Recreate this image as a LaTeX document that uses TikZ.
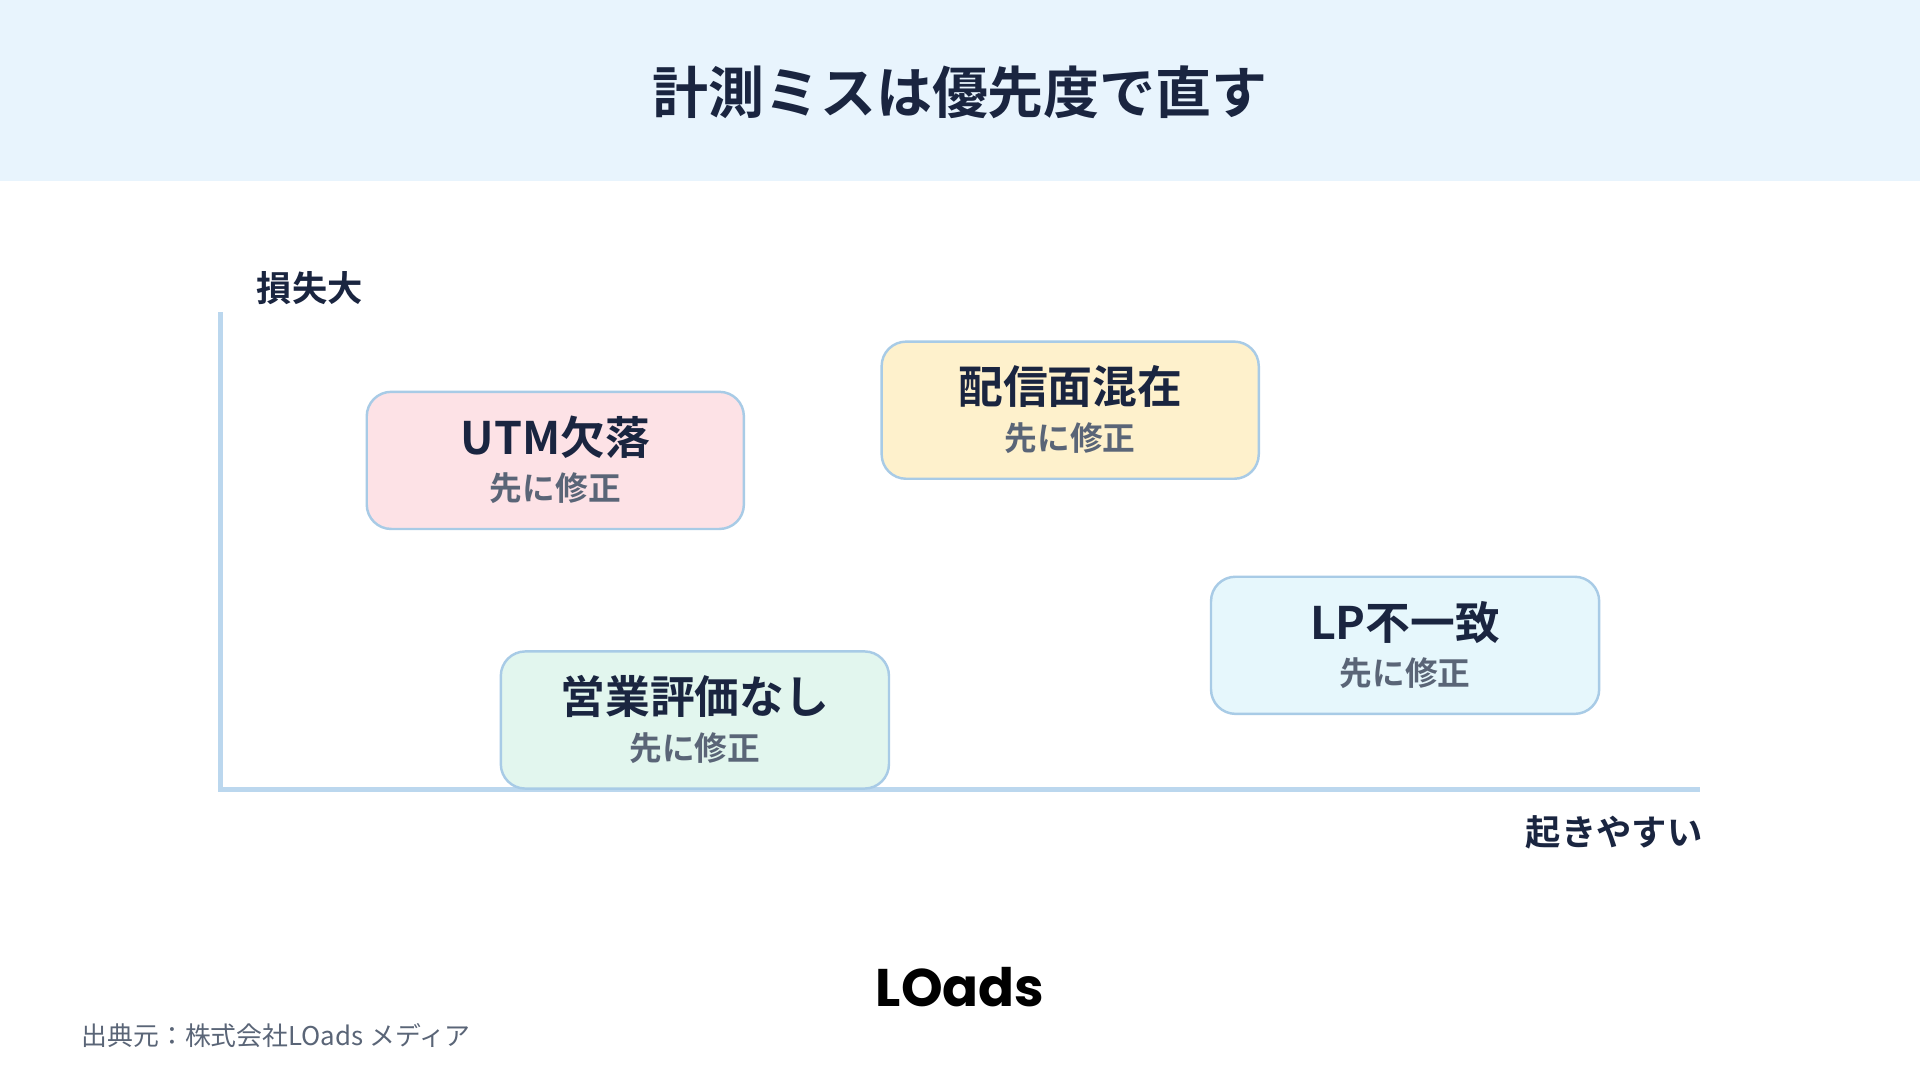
\documentclass[tikz,border=0pt]{standalone}
\usepackage{fontspec}
\setmainfont{Noto Sans CJK JP}
\newfontfamily\jpb{Noto Sans CJK JP Bold}
\newfontfamily\logo{Poppins Bold}
\definecolor{navy}{HTML}{1A2540}
\definecolor{subg}{HTML}{5A6577}
\definecolor{band}{HTML}{E8F4FD}
\definecolor{axisc}{HTML}{BBD7EE}
\definecolor{bord}{HTML}{A8CBE6}
\definecolor{cpink}{HTML}{FDE2E6}
\definecolor{cyel}{HTML}{FEF1CC}
\definecolor{ccyan}{HTML}{E6F7FC}
\definecolor{cgreen}{HTML}{E2F6EE}
\tikzset{
 card/.style={draw=bord,line width=2pt*0.2845,rounded corners=20*0.01cm,minimum width=308*0.01cm,minimum height=112*0.01cm,inner sep=0pt},
 mainlbl/.style={font=\jpb\fontsize{10.4pt}{12pt}\selectfont,text=navy},
 sublbl/.style={font=\jpb\fontsize{7.6pt}{9pt}\selectfont,text=subg},
}
\begin{document}
\begin{tikzpicture}[x=0.01cm,y=-0.01cm]
\useasboundingbox (0,0) rectangle (1568,882);
\fill[white] (0,0) rectangle (1568,882);
\fill[band] (0,0) rectangle (1568,148);
\node[font=\jpb\fontsize{13pt}{15pt}\selectfont,text=navy] (title) at (784,75) {計測ミスは優先度で直す};
\coordinate (o) at (180,645);
\coordinate (ytop) at (180,255);
\coordinate (xend) at (1388,645);
\draw[axisc,line width=4*0.2845pt] (ytop) -- (o) -- (xend);
\node[font=\jpb\fontsize{8.2pt}{10pt}\selectfont,text=navy] (ylab) at (253,235) {損失大};
\node[font=\jpb\fontsize{8.2pt}{10pt}\selectfont,text=navy,anchor=east,inner sep=0pt] (xlab) at (1391,680) {起きやすい};
\node[card,fill=cpink] (a) at (453.5,376) {};
\node[mainlbl] (at) at (453.5,357) {UTM欠落};
\node[sublbl] (as) at (453.5,399) {先に修正};
\node[card,fill=cyel] (b) at (874,335) {};
\node[mainlbl] (bt) at (874,316) {配信面混在};
\node[sublbl] (bs) at (874,358) {先に修正};
\node[card,fill=ccyan,minimum width=317*0.01cm] (c) at (1147.5,527) {};
\node[mainlbl] (ct) at (1147.5,508) {LP不一致};
\node[sublbl] (cs) at (1147.5,550) {先に修正};
\node[card,fill=cgreen,minimum width=317*0.01cm] (d) at (567.5,588) {};
\node[mainlbl] (dt) at (567.5,569) {営業評価なし};
\node[sublbl] (ds) at (567.5,611) {先に修正};
\node[font=\logo\fontsize{12.3pt}{14pt}\selectfont,text=black] (lg) at (784,806) {LOads};
\node[font=\fontsize{6pt}{7pt}\selectfont,text=subg,anchor=west,inner sep=0pt] (src) at (66,846) {出典元：株式会社LOads メディア};
\end{tikzpicture}
\end{document}
